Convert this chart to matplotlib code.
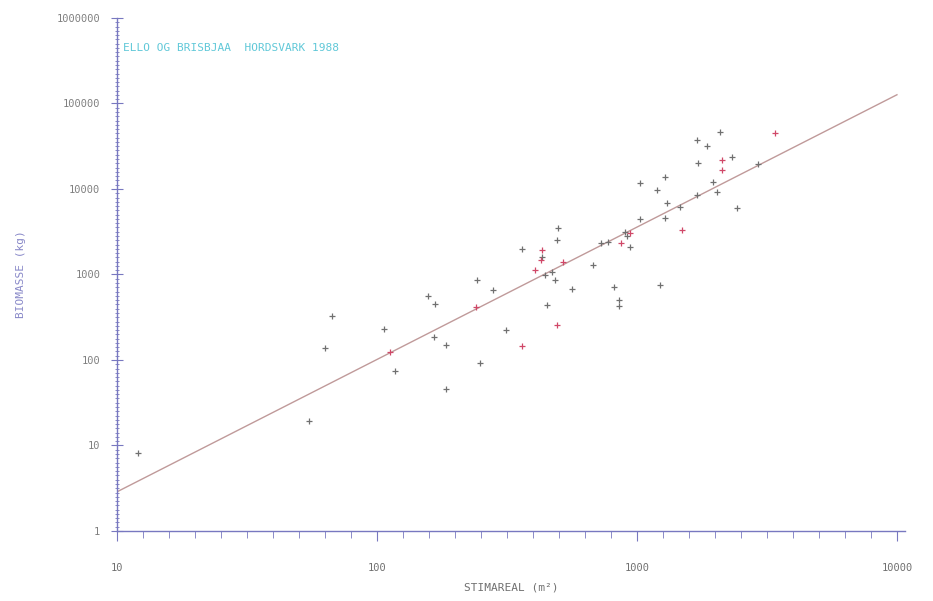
import numpy as np
import matplotlib
matplotlib.use("Agg")
import matplotlib.pyplot as plt
from matplotlib.ticker import FixedLocator, NullFormatter

# stim area (m2) and biomass (kg)
gray_area = [12.0, 55, 63, 67, 106, 117, 157, 167, 166, 184, 184, 243, 249, 279,
             313, 361, 431, 443, 451, 471, 484, 493, 497, 562, 677, 727, 773,
             816, 850, 850, 899, 916, 940, 1028, 1028, 1195, 1225, 1282, 1282,
             1304, 1463, 1700, 1700, 1718, 1860, 1958, 2030, 2085, 2318, 2425,
             2918]
gray_biomass = [8.2, 19.3, 138, 327, 230, 74, 560, 452, 186, 150, 46, 863, 92, 659,
                224, 1987, 1600, 986, 440, 1070, 862, 2535, 3500, 677, 1290, 2334,
                2400, 714, 505, 428, 3139, 2820, 2098, 11700, 4460, 9730, 754,
                13800, 4580, 6850, 6150, 37400, 8510, 20100, 31800, 12100, 9220,
                46500, 23700, 5980, 19600]

red_area = [112, 240, 361, 405, 427, 431, 493, 519, 867, 940, 1490, 2123, 2123, 3400]
red_biomass = [124, 417, 146, 1130, 1478, 1935, 257, 1400, 2334, 3055, 3313,
               21800, 16700, 45200]

# log-log regression line: log10(B) = a + b*log10(A)
fit_a = -1.09
fit_b = 1.548
fit_range = [10, 10000]

x_ticks = [10, 100, 1000, 10000]
y_ticks = [1, 10, 100, 1000, 10000, 100000, 1000000]

fig = plt.figure(figsize=(9.33, 6.01), dpi=100)
ax = fig.add_axes([0.1254, 0.1165, 0.8446, 0.8536])

lx = np.array(fit_range, dtype=float)
ly = 10 ** (fit_a + fit_b * np.log10(lx))
ax.plot(lx, ly, color='#c09a9a', lw=1.0, zorder=1)

ax.plot(gray_area, gray_biomass, '+', color='#707070', ms=5, mew=0.9, ls='none', zorder=2)
ax.plot(red_area, red_biomass, '+', color='#d04868', ms=5, mew=0.9, ls='none', zorder=3)

ax.set_xscale('log')
ax.set_yscale('log')
ax.set_xlim(10, 10740)
ax.set_ylim(1, 1000000)

ax.xaxis.set_major_locator(FixedLocator(x_ticks))
ax.yaxis.set_major_locator(FixedLocator(y_ticks))
ax.set_xticklabels([str(v) for v in x_ticks])
ax.set_yticklabels([str(v) for v in y_ticks])

xmin = [10 ** (1 + k / 10) for k in range(31) if k % 10]
ymin = [10 ** (k / 20) for k in range(121) if k % 20]
ax.xaxis.set_minor_locator(FixedLocator(xmin))
ax.yaxis.set_minor_locator(FixedLocator(ymin))
ax.xaxis.set_minor_formatter(NullFormatter())
ax.yaxis.set_minor_formatter(NullFormatter())

axis_col = '#7878c0'
for s in ['top', 'right']:
    ax.spines[s].set_visible(False)
for s in ['left', 'bottom']:
    ax.spines[s].set_color(axis_col)
    ax.spines[s].set_linewidth(1.0)

ax.tick_params(axis='x', which='major', direction='out', length=7, color=axis_col,
               labelsize=7.5, labelcolor='#707070', pad=16)
ax.tick_params(axis='x', which='minor', direction='out', length=5, color=axis_col)
ax.tick_params(axis='y', which='major', direction='inout', length=8, color=axis_col,
               labelsize=7.5, labelcolor='#808080', pad=8)
ax.tick_params(axis='y', which='minor', direction='inout', length=3, color=axis_col)
for lab in ax.get_xticklabels() + ax.get_yticklabels():
    lab.set_family('DejaVu Sans Mono')

ax.set_xlabel('STIMAREAL (m²)', family='DejaVu Sans Mono', fontsize=8,
              color='#707070', labelpad=7)
ax.set_ylabel('BIOMASSE (kg)', family='DejaVu Sans Mono', fontsize=8,
              color='#8888c8', labelpad=22)

ax.text(0.008, 0.935, 'ELLO OG BRISBJAA  HORDSVARK 1988', transform=ax.transAxes,
        family='DejaVu Sans Mono', fontsize=8, color='#60c8d8')

fig.savefig('out.png', dpi=100, facecolor='white')
